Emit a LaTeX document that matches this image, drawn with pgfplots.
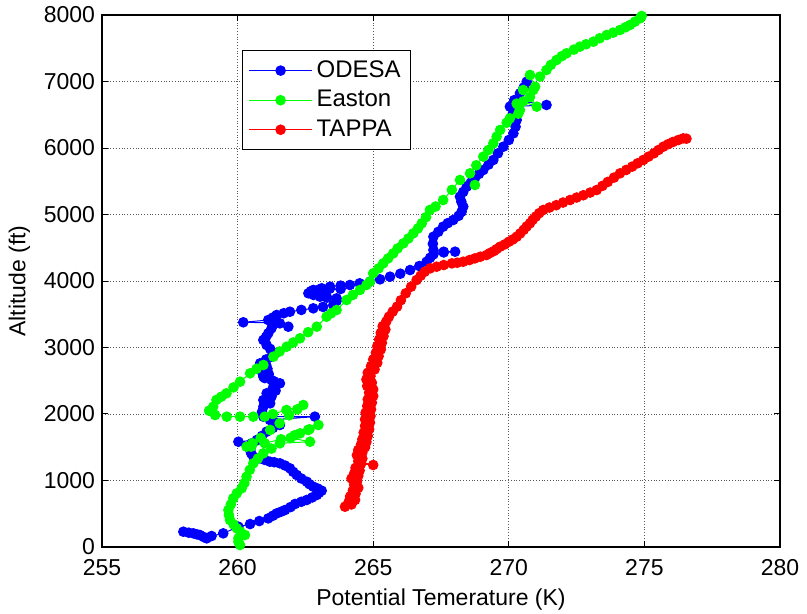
\documentclass[border=0pt]{standalone}
\usepackage{fontspec}
\setmainfont{Liberation Sans}
\usepackage{pgfplots}
\pgfplotsset{compat=1.18}
\definecolor{odesa}{rgb}{0,0,1}
\definecolor{easton}{rgb}{0,1,0}
\definecolor{tappa}{rgb}{1,0,0}
\begin{document}
\begin{tikzpicture}
\useasboundingbox (-51pt,-33.5pt) rectangle (352.5pt,273.5pt);
\begin{axis}[
  at={(0,0)}, anchor=south west,
  scale only axis, width=339pt, height=266pt,
  xmin=255, xmax=280, ymin=0, ymax=8000,
  xtick={255,260,...,280}, ytick={0,1000,...,8000},
  scaled y ticks=false,
  /pgf/number format/assume math mode=true,
  /pgf/number format/1000 sep={},
  tick label style={font=\fontsize{11.5}{13}\selectfont},
  x tick label style={yshift=-2.5pt},
  label style={font=\fontsize{11.5}{13}\selectfont},
  xlabel={Potential Temerature (K)},
  ylabel={Altitude (ft)},
  grid=major,
  major grid style={densely dotted, black!65, line width=0.4pt},
  tick align=inside, major tick length=3pt,
  tick style={black, line width=0.5pt},
  axis line style={line width=0.6pt},
  legend style={at={(0.2065,0.934)}, anchor=north west, draw=black, line width=0.6pt,
    font=\fontsize{12}{14}\selectfont, inner xsep=3pt, inner ysep=3pt,
    row sep=1pt},
  legend cell align=left,
  legend image code/.code={\draw[mark repeat=2,mark phase=2,#1] plot coordinates {(0pt,0pt)(15.75pt,0pt)(31.5pt,0pt)};},
  every axis plot/.append style={line width=0.5pt, mark=*, mark size=2.4pt},
]
\addplot[color=odesa, mark options={fill=odesa, draw=odesa}] table {
x y
258.00 230
258.20 215
258.37 205
258.50 190
258.61 180
258.75 150
258.86 130
259.04 165
259.47 205
260.03 305
260.46 345
260.80 390
261.13 430
261.30 470
261.44 505
261.60 530
261.75 556
261.95 600
262.12 647
262.35 680
262.55 707
262.75 745
262.92 782
263.00 815
263.10 847
262.95 880
262.79 907
262.65 945
262.55 982
262.35 1030
262.18 1083
262.05 1130
261.93 1183
261.75 1225
261.56 1258
261.35 1275
261.19 1283
261.00 1310
260.83 1333
260.58 1358
260.50 1410
260.46 1459
260.50 1510
260.52 1559
260.03 1583
260.71 1609
260.90 1670
261.07 1734
261.30 1790
261.56 1835
261.35 1880
261.19 1910
262.85 1960
260.95 1960
260.90 2030
260.95 2110
261.20 2160
260.95 2210
261.25 2260
261.07 2311
261.40 2350
261.30 2390
261.56 2461
261.35 2490
261.25 2510
261.00 2540
260.95 2561
261.15 2600
260.90 2630
261.10 2680
260.85 2710
261.05 2740
260.83 2762
261.05 2820
261.25 2862
261.38 2912
261.20 2980
261.07 3037
260.95 3113
261.05 3160
261.13 3213
261.25 3288
261.56 3363
261.87 3313
261.40 3370
260.21 3379
261.13 3413
261.30 3450
261.44 3489
261.70 3515
261.93 3538
262.35 3565
262.79 3589
263.15 3610
263.53 3639
263.65 3700
263.65 3739
263.30 3750
263.04 3764
262.80 3790
262.61 3815
262.70 3845
263.00 3870
263.40 3885
263.80 3880
263.20 3850
262.79 3865
263.10 3890
263.41 3915
263.80 3930
264.14 3940
264.50 3965
264.88 3990
265.25 4025
265.62 4065
266.00 4110
266.36 4165
266.70 4225
266.97 4290
267.10 4350
267.22 4400
267.60 4430
268.02 4441
267.60 4440
267.22 4466
267.20 4560
267.22 4666
267.40 4740
267.58 4817
267.75 4870
267.95 4917
268.15 4980
268.26 5042
268.32 5118
268.25 5193
268.20 5268
268.32 5340
268.45 5419
268.60 5480
268.75 5545
268.90 5610
269.06 5669
269.25 5750
269.43 5820
269.60 5920
269.80 6020
270.00 6120
270.17 6220
270.25 6320
270.29 6421
270.15 6520
270.04 6622
271.39 6647
270.20 6720
270.41 6822
270.55 6910
270.66 6997
};
\addlegendentry{ODESA}
\addplot[color=easton, mark options={fill=easton, draw=easton}] table {
x y
260.09 30
260.03 80
260.03 130
260.27 180
260.10 230
259.97 281
259.85 340
259.72 406
259.68 480
259.66 556
259.75 640
259.84 732
259.97 807
260.15 882
260.25 960
260.33 1057
260.45 1160
260.58 1258
260.75 1330
260.95 1409
261.25 1480
261.56 1559
262.67 1583
261.95 1640
262.30 1709
262.65 1770
262.98 1835
262.60 1760
262.10 1680
261.60 1620
261.00 1560
260.50 1509
260.33 1509
260.55 1560
260.85 1640
261.20 1760
261.55 1860
261.90 1980
262.20 2070
262.42 2135
261.80 2060
261.30 2000
261.00 1960
260.58 1960
260.09 1960
259.60 1960
259.17 1985
258.95 2050
259.10 2110
259.22 2211
259.40 2260
259.59 2311
259.85 2400
260.09 2486
260.46 2612
260.70 2680
260.95 2737
261.32 2862
261.55 2940
261.81 3012
262.05 3075
262.30 3138
262.60 3230
262.92 3313
263.28 3463
263.45 3515
263.65 3564
264.02 3714
264.25 3790
264.51 3865
264.75 3940
264.88 3990
265.00 4115
265.20 4190
265.37 4266
265.55 4340
265.74 4416
265.90 4490
266.11 4566
266.30 4640
266.48 4717
266.65 4790
266.79 4867
266.95 4960
267.09 5068
267.30 5120
267.58 5218
267.90 5370
268.20 5519
268.75 5444
268.57 5619
268.80 5740
269.06 5870
269.25 5970
269.43 6070
269.55 6170
269.68 6271
269.92 6380
270.04 6446
270.35 6516
270.41 6571
270.29 6667
270.53 6700
271.03 6622
270.78 6767
270.53 6872
270.90 6872
270.97 6922
270.78 7098
271.15 7073
271.39 7173
271.55 7250
271.76 7323
271.95 7380
272.13 7424
272.40 7480
272.62 7524
272.85 7560
273.12 7599
273.35 7650
273.61 7699
273.85 7735
274.10 7774
274.30 7815
274.47 7850
274.65 7900
274.84 7950
274.90 7985
};
\addlegendentry{Easton}
\addplot[color=tappa, mark options={fill=tappa, draw=tappa}] table {
x y
263.96 606
264.20 640
264.10 680
264.33 707
264.15 760
264.35 800
264.25 850
264.45 890
264.30 940
264.40 980
264.20 1030
264.45 1070
264.30 1108
264.50 1150
264.35 1190
264.55 1250
265.00 1233
264.45 1290
264.60 1330
264.40 1380
264.60 1420
264.45 1459
264.70 1500
264.55 1540
264.75 1580
264.60 1620
264.80 1670
264.65 1720
264.85 1770
264.70 1820
264.88 1870
264.70 1920
264.90 1970
264.72 2020
264.92 2070
264.78 2120
264.95 2170
264.80 2220
265.00 2270
264.85 2320
265.00 2370
264.78 2420
264.95 2470
264.75 2520
264.90 2570
264.80 2620
265.05 2670
264.92 2720
265.15 2770
265.00 2820
265.20 2870
265.10 2920
265.28 2970
265.15 3020
265.32 3070
265.22 3120
265.38 3170
265.28 3220
265.45 3270
265.35 3320
265.48 3390
265.58 3463
265.72 3540
265.88 3614
266.02 3710
266.20 3815
266.40 3915
266.60 4015
266.75 4080
266.90 4140
267.10 4190
267.34 4215
267.60 4240
267.90 4265
268.10 4275
268.32 4290
268.55 4315
268.75 4340
268.95 4365
269.18 4391
269.30 4420
269.45 4450
269.55 4480
269.68 4516
269.85 4550
270.00 4590
270.15 4625
270.29 4666
270.42 4715
270.55 4770
270.66 4820
270.78 4867
270.88 4920
271.00 4970
271.12 5020
271.27 5068
271.50 5105
271.75 5140
272.00 5180
272.26 5218
272.50 5255
272.75 5290
273.00 5330
273.24 5368
273.45 5430
273.65 5490
273.88 5555
274.10 5619
274.33 5670
274.55 5720
274.75 5770
274.96 5820
275.15 5870
275.35 5920
275.52 5970
275.70 6020
275.88 6058
276.05 6090
276.25 6120
276.43 6145
276.55 6140
};
\addlegendentry{TAPPA}
\end{axis}
\end{tikzpicture}
\end{document}
